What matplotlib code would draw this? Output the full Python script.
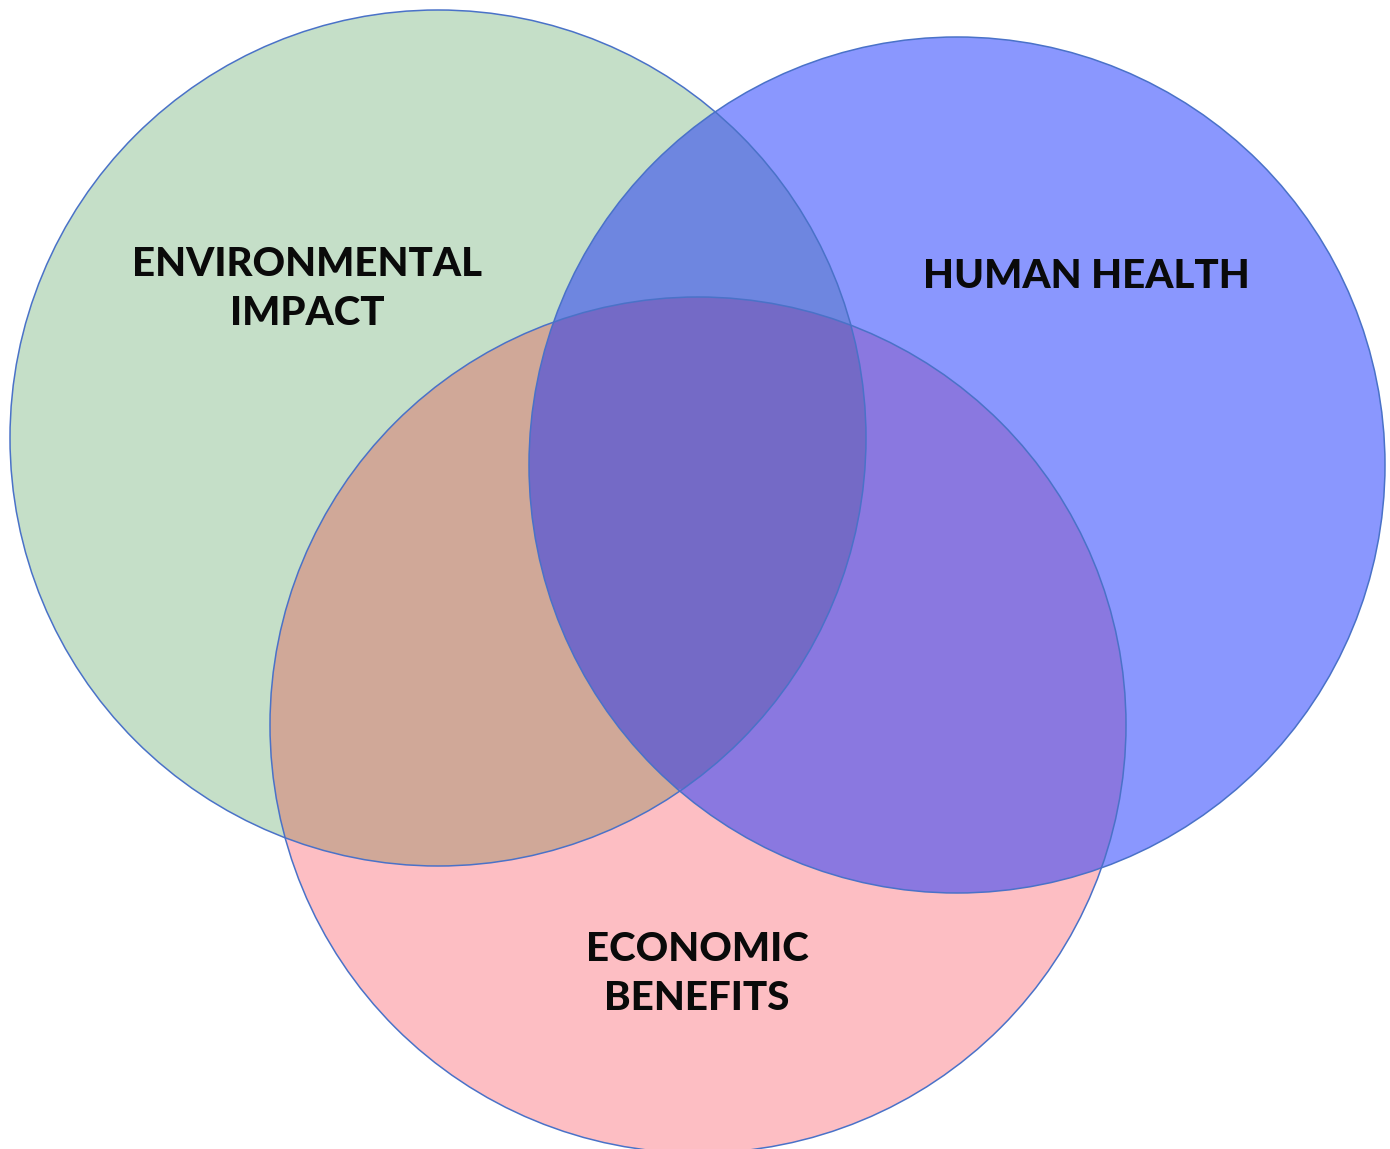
import numpy as np
import matplotlib.pyplot as plt
from matplotlib.patches import Circle, Polygon

# three sets of the diagram
labels = ["ENVIRONMENTAL\nIMPACT", "HUMAN HEALTH", "ECONOMIC\nBENEFITS"]
centers = [(438, 438), (957, 465), (698, 725)]
radius = 428
label_pos = [(307, 289), (1086, 276), (697, 974)]

# fill colours of the single sets and of their overlaps
set_colors = ["#C5DFC8", "#8A97FE", "#FDBEC3"]
env_health = "#6E86E0"
env_econ = "#D0A898"
health_econ = "#8A78E0"
all_three = "#746AC6"
edge = "#4A72C8"

fig = plt.figure(figsize=(13.9, 11.49), dpi=100)
ax = fig.add_axes([0, 0, 1, 1])
ax.set_xlim(0, 1390)
ax.set_ylim(1149, 0)
ax.set_aspect("equal")
ax.axis("off")

def circ(i, fc):
    return Circle(centers[i], radius, fc=fc, ec="none")

def lens(a, b, n=400):
    # polygon of the overlap of circle a and circle b
    t = np.linspace(0, 2 * np.pi, n)
    pts = []
    for i, j in ((a, b), (b, a)):
        cx, cy = centers[i]
        px = cx + radius * np.cos(t)
        py = cy + radius * np.sin(t)
        ox, oy = centers[j]
        inside = (px - ox) ** 2 + (py - oy) ** 2 <= radius ** 2
        # rotate so the inside arc is contiguous
        k = np.argmin(inside)
        idx = np.roll(np.arange(n), -k)
        idx = idx[inside[idx]]
        pts.append(np.column_stack([px[idx], py[idx]]))
    return np.vstack(pts)

# single sets
for i in range(3):
    ax.add_patch(circ(i, set_colors[i]))

# pairwise overlaps
pairs = [(0, 1, env_health), (0, 2, env_econ), (1, 2, health_econ)]
for a, b, c in pairs:
    clip = circ(a, "none")
    ax.add_patch(clip)
    p = circ(b, c)
    ax.add_patch(p)
    p.set_clip_path(clip)

# triple overlap
clip = Polygon(lens(0, 1), closed=True, fc="none", ec="none")
ax.add_patch(clip)
p = circ(2, all_three)
ax.add_patch(p)
p.set_clip_path(clip)

# outlines
for i in range(3):
    ax.add_patch(Circle(centers[i], radius, fc="none", ec=edge, lw=1.1))

for (x, y), lab in zip(label_pos, labels):
    ax.text(x, y, lab, ha="center", va="center", multialignment="center",
            fontsize=29, fontweight="black", family="Lato",
            color="#0a0a0a", linespacing=1.38)

fig.savefig("out.png", dpi=100)
